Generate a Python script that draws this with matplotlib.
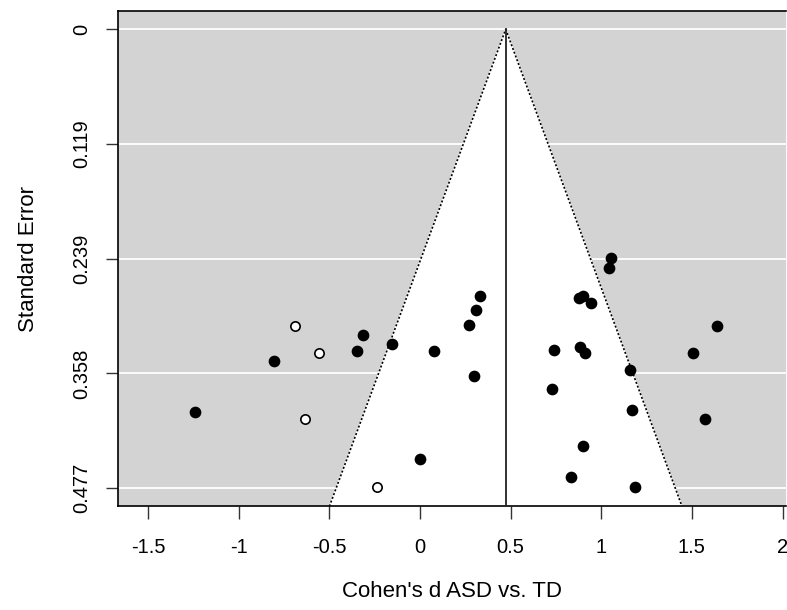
import numpy as np
import matplotlib
matplotlib.use("Agg")
import matplotlib.pyplot as plt

plt.rcParams['font.family'] = ['Liberation Sans', 'DejaVu Sans']

# observed studies (Cohen's d, standard error)
obs_d = [-1.238, -0.804, -0.346, -0.313, -0.152, 0.000, 0.077,
         0.269, 0.298, 0.308, 0.330, 0.727, 0.742, 0.835, 0.877,
         0.885, 0.901, 0.901, 0.910, 0.941, 1.040, 1.055, 1.161,
         1.170, 1.187, 1.505, 1.573, 1.637]
obs_se = [0.398, 0.345, 0.335, 0.318, 0.327, 0.447, 0.335,
          0.308, 0.361, 0.292, 0.277, 0.3745, 0.334, 0.466, 0.279,
          0.330, 0.277, 0.433, 0.337, 0.2845, 0.248, 0.2375, 0.354,
          0.396, 0.476, 0.337, 0.405, 0.309]
# imputed studies (trim and fill)
fill_d = [-0.688, -0.559, -0.634, -0.238]
fill_se = [0.309, 0.337, 0.405, 0.476]

est = 0.473
se_max = 0.477
yticks = np.linspace(0, se_max, 5)
ytick_labels = ['0', '0.119', '0.239', '0.358', '0.477']
xticks = [-1.5, -1, -0.5, 0, 0.5, 1, 1.5, 2]
xtick_labels = ['-1.5', '-1', '-0.5', '0', '0.5', '1', '1.5', '2']

fig = plt.figure(figsize=(7.87, 6.10), dpi=100)
ax = fig.add_axes([0.150, 0.170, 0.849, 0.812])

ylo, yhi = -0.019, 0.496
xlo, xhi = -1.665, 2.02
ax.set_xlim(xlo, xhi)
ax.set_ylim(yhi, ylo)
ax.set_facecolor('#d3d3d3')

for y in yticks:
    ax.axhline(y, color='white', lw=1.3, zorder=1)

# funnel region
fx = [est - 1.96 * yhi, est, est + 1.96 * yhi]
fy = [yhi, 0, yhi]
ax.fill(fx, fy, color='white', zorder=2)
ax.plot(fx[:2], fy[:2], color='black', ls=(0, (1.2, 1.2)), lw=1.2, zorder=3)
ax.plot(fx[1:], fy[1:], color='black', ls=(0, (1.2, 1.2)), lw=1.2, zorder=3)
ax.plot([est, est], [0, yhi], color='#222222', lw=1.3, zorder=3)

ax.scatter(obs_d, obs_se, s=55, c='black', edgecolors='black', zorder=4)
ax.scatter(fill_d, fill_se, s=45, c='white', edgecolors='black', lw=1.2, zorder=4)

ax.set_xticks(xticks)
ax.set_xticklabels(xtick_labels, fontsize=14.5)
ax.set_yticks(yticks)
ax.set_yticklabels(ytick_labels, fontsize=14.5, rotation=90, va='center')
ax.tick_params(direction='out', length=9, width=1, color='#333333')
ax.tick_params(axis='x', pad=14)
ax.tick_params(axis='y', pad=10)
for s in ax.spines.values():
    s.set_linewidth(1.2)
ax.spines['right'].set_visible(False)

ax.set_xlabel("Cohen's d ASD vs. TD", fontsize=16, labelpad=17)
ax.set_ylabel('Standard Error', fontsize=16, labelpad=24)

fig.savefig('out.png', dpi=100)
